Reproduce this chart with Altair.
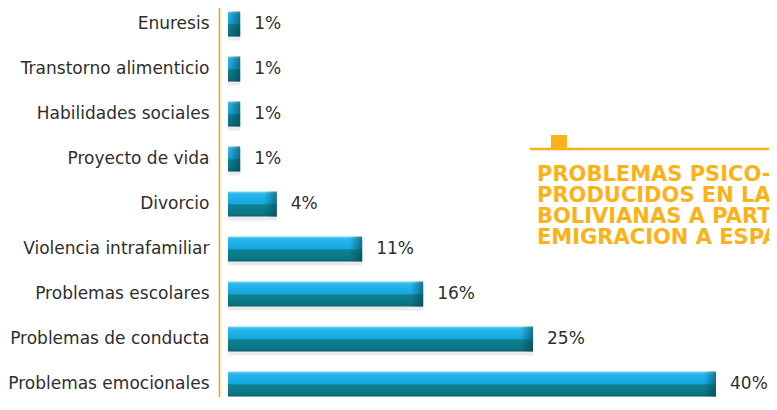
import altair as alt
import pandas as pd

CATEGORIES = [
    "Enuresis",
    "Transtorno alimenticio",
    "Habilidades sociales",
    "Proyecto de vida",
    "Divorcio",
    "Violencia intrafamiliar",
    "Problemas escolares",
    "Problemas de conducta",
    "Problemas emocionales",
]
VALUES = [1, 1, 1, 1, 4, 11, 16, 25, 40]
LABELS = ["1%", "1%", "1%", "1%", "4%", "11%", "16%", "25%", "40%"]
TITLE_LINES = [
    "PROBLEMAS PSICO-SOCIALES",
    "PRODUCIDOS EN LAS FAMILIAS",
    "BOLIVIANAS A PARTIR DE LA",
    "EMIGRACION A ESPAÑA",
]

df = pd.DataFrame({"cat": CATEGORIES, "value": VALUES, "label": LABELS})

ORANGE = "#FDB119"
AXIS_ORANGE = "#F5A01A"
TEXT = "#2e2e2e"
FONT = "DejaVu Sans"

xscale = alt.Scale(domain=[0, 40], range=[9, 497])
yscale = alt.Scale(domain=CATEGORIES, range=[-6.5, 398.5],
                   paddingInner=0.444, paddingOuter=0.222)

yenc = alt.Y("cat:N", sort=None, scale=yscale,
             axis=alt.Axis(title=None, ticks=False, labelPadding=10,
                           labelFont=FONT, labelFontSize=17, labelColor=TEXT,
                           domainColor=AXIS_ORANGE, domainWidth=1.6,
                           labelLimit=400, grid=False))

base = alt.Chart(df).encode(y=yenc)

bar_grad = alt.LinearGradient(
    gradient="linear", x1=0, y1=0, x2=0, y2=1,
    stops=[
        alt.GradientStop(offset=0, color="#7AD6F5"),
        alt.GradientStop(offset=0.1, color="#27B8EC"),
        alt.GradientStop(offset=0.5, color="#14A6DC"),
        alt.GradientStop(offset=0.53, color="#0E8292"),
        alt.GradientStop(offset=0.88, color="#0A7584"),
        alt.GradientStop(offset=1, color="#0B6270"),
    ],
)

end_grad = alt.LinearGradient(
    gradient="linear", x1=0, y1=0, x2=1, y2=0,
    stops=[
        alt.GradientStop(offset=0, color="rgba(6,60,72,0)"),
        alt.GradientStop(offset=1, color="rgba(6,60,72,0.55)"),
    ],
)

shadow = base.mark_bar(color="#000000", opacity=0.08, yOffset=4).encode(
    x=alt.X("value:Q", scale=xscale, axis=None)
)

bars = base.mark_bar(fill=bar_grad).encode(
    x=alt.X("value:Q", scale=xscale, axis=None)
)

ends = base.transform_calculate(start="datum.value - 1").mark_bar(fill=end_grad).encode(
    x=alt.X("start:Q", scale=xscale, axis=None),
    x2="value:Q",
)

labels = base.mark_text(align="left", baseline="middle", dx=14, font=FONT,
                        fontSize=17, color=TEXT).encode(
    x=alt.X("value:Q", scale=xscale, axis=None),
    text="label:N",
)

deco_df = pd.DataFrame({"k": [0]})
title = alt.Chart(deco_df).mark_text(
    text=TITLE_LINES, align="left", baseline="top", font=FONT,
    fontWeight="bold", fontSize=21, lineHeight=21.3, color=ORANGE,
).encode(x=alt.value(318), y=alt.value(155.5))

rule = alt.Chart(deco_df).mark_rule(color=ORANGE, strokeWidth=2.5).encode(
    x=alt.value(311), x2=alt.value(570), y=alt.value(141)
)

square = alt.Chart(deco_df).mark_rect(color=ORANGE).encode(
    x=alt.value(332), x2=alt.value(348), y=alt.value(127), y2=alt.value(142)
)

chart = alt.layer(shadow, bars, ends, labels, rule, square, title).properties(
    width=550,
    height=389,
    autosize=alt.AutoSizeParams(type="none"),
    padding={"left": 211, "top": 0, "right": 0, "bottom": 0},
    background="white",
).configure_view(stroke=None)

chart.save("out.html", embed_options={"renderer": "svg", "actions": False})
